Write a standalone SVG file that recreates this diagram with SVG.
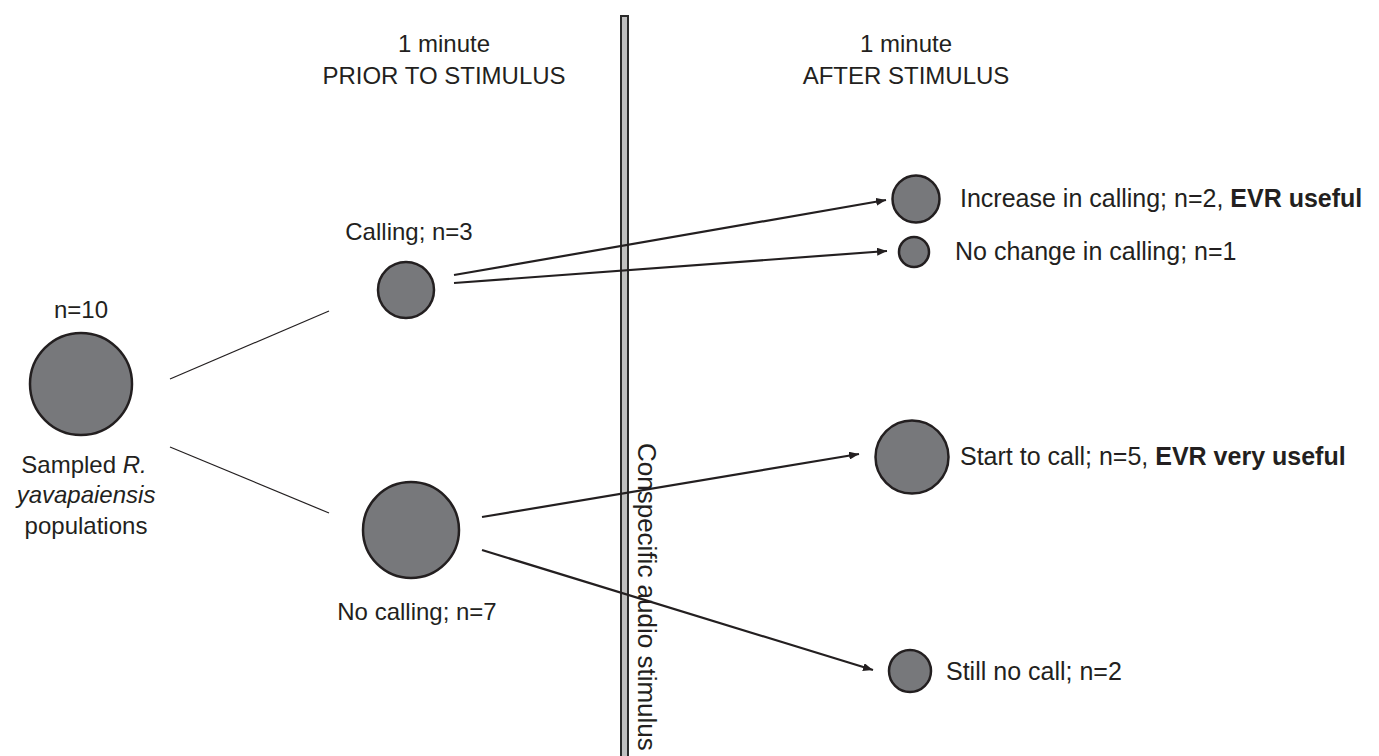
<svg xmlns="http://www.w3.org/2000/svg" width="1379" height="756" viewBox="0 0 1379 756">
<defs>
<style>
text{font-family:"Liberation Sans",Arial,sans-serif;font-size:24px;fill:#231f20}
.c{text-anchor:middle}
.b{font-weight:bold}
.r{font-size:25px}
.node{fill:#77787b;stroke:#231f20;stroke-width:2.5}
.thin{stroke:#231f20;stroke-width:1.2;fill:none}
.arr{stroke:#231f20;stroke-width:2.2;fill:none;marker-end:url(#ah)}
</style>
<marker id="ah" viewBox="0 0 10 8" refX="10" refY="4" markerWidth="10" markerHeight="8" markerUnits="userSpaceOnUse" orient="auto">
<path d="M0,0 L10,4 L0,8 Z" fill="#231f20"/>
</marker>
</defs>
<rect width="1379" height="756" fill="#ffffff"/>
<g id="headers">
<text class="c" x="444" y="52">1 minute</text>
<text class="c" x="444" y="84">PRIOR TO STIMULUS</text>
<text class="c" x="906" y="52">1 minute</text>
<text class="c" x="906" y="84">AFTER STIMULUS</text>
</g>
<g id="stimulus-bar">
<rect x="621" y="16" width="7" height="745" fill="#c0c0c0" stroke="#2b2b2b" stroke-width="2"/>
<text transform="translate(638,443) rotate(90)" style="font-size:26px">Conspecific audio stimulus</text>
</g>
<g id="connectors">
<line class="thin" x1="170" y1="379" x2="329" y2="311"/>
<line class="thin" x1="170" y1="447" x2="329" y2="513"/>
<line class="arr" x1="454" y1="275" x2="886" y2="200"/>
<line class="arr" x1="454" y1="283" x2="887" y2="251"/>
<line class="arr" x1="482" y1="517" x2="859" y2="454"/>
<line class="arr" x1="482" y1="550" x2="873" y2="670"/>
</g>
<g id="node-sampled">
<circle class="node" cx="81" cy="384" r="51"/>
<text class="c" x="81" y="318">n=10</text>
<text class="c" x="84" y="473">Sampled <tspan font-style="italic">R.</tspan></text>
<text class="c" x="86" y="503" font-style="italic">yavapaiensis</text>
<text class="c" x="86" y="534">populations</text>
</g>
<g id="node-calling">
<circle class="node" cx="406" cy="290" r="28"/>
<text class="c" x="409" y="240">Calling; n=3</text>
</g>
<g id="node-nocalling">
<circle class="node" cx="411" cy="530" r="48"/>
<text class="c" x="417" y="620">No calling; n=7</text>
</g>
<g id="node-increase">
<circle class="node" cx="916" cy="199" r="23.5"/>
<text class="r" x="960" y="207">Increase in calling; n=2, <tspan class="b">EVR useful</tspan></text>
</g>
<g id="node-nochange">
<circle class="node" cx="914" cy="252" r="15"/>
<text class="r" x="955" y="260">No change in calling; n=1</text>
</g>
<g id="node-start">
<circle class="node" cx="912" cy="457" r="36.5"/>
<text class="r" x="960" y="465">Start to call; n=5, <tspan class="b">EVR very useful</tspan></text>
</g>
<g id="node-still">
<circle class="node" cx="910" cy="671" r="21"/>
<text class="r" x="946" y="680">Still no call; n=2</text>
</g>
</svg>
